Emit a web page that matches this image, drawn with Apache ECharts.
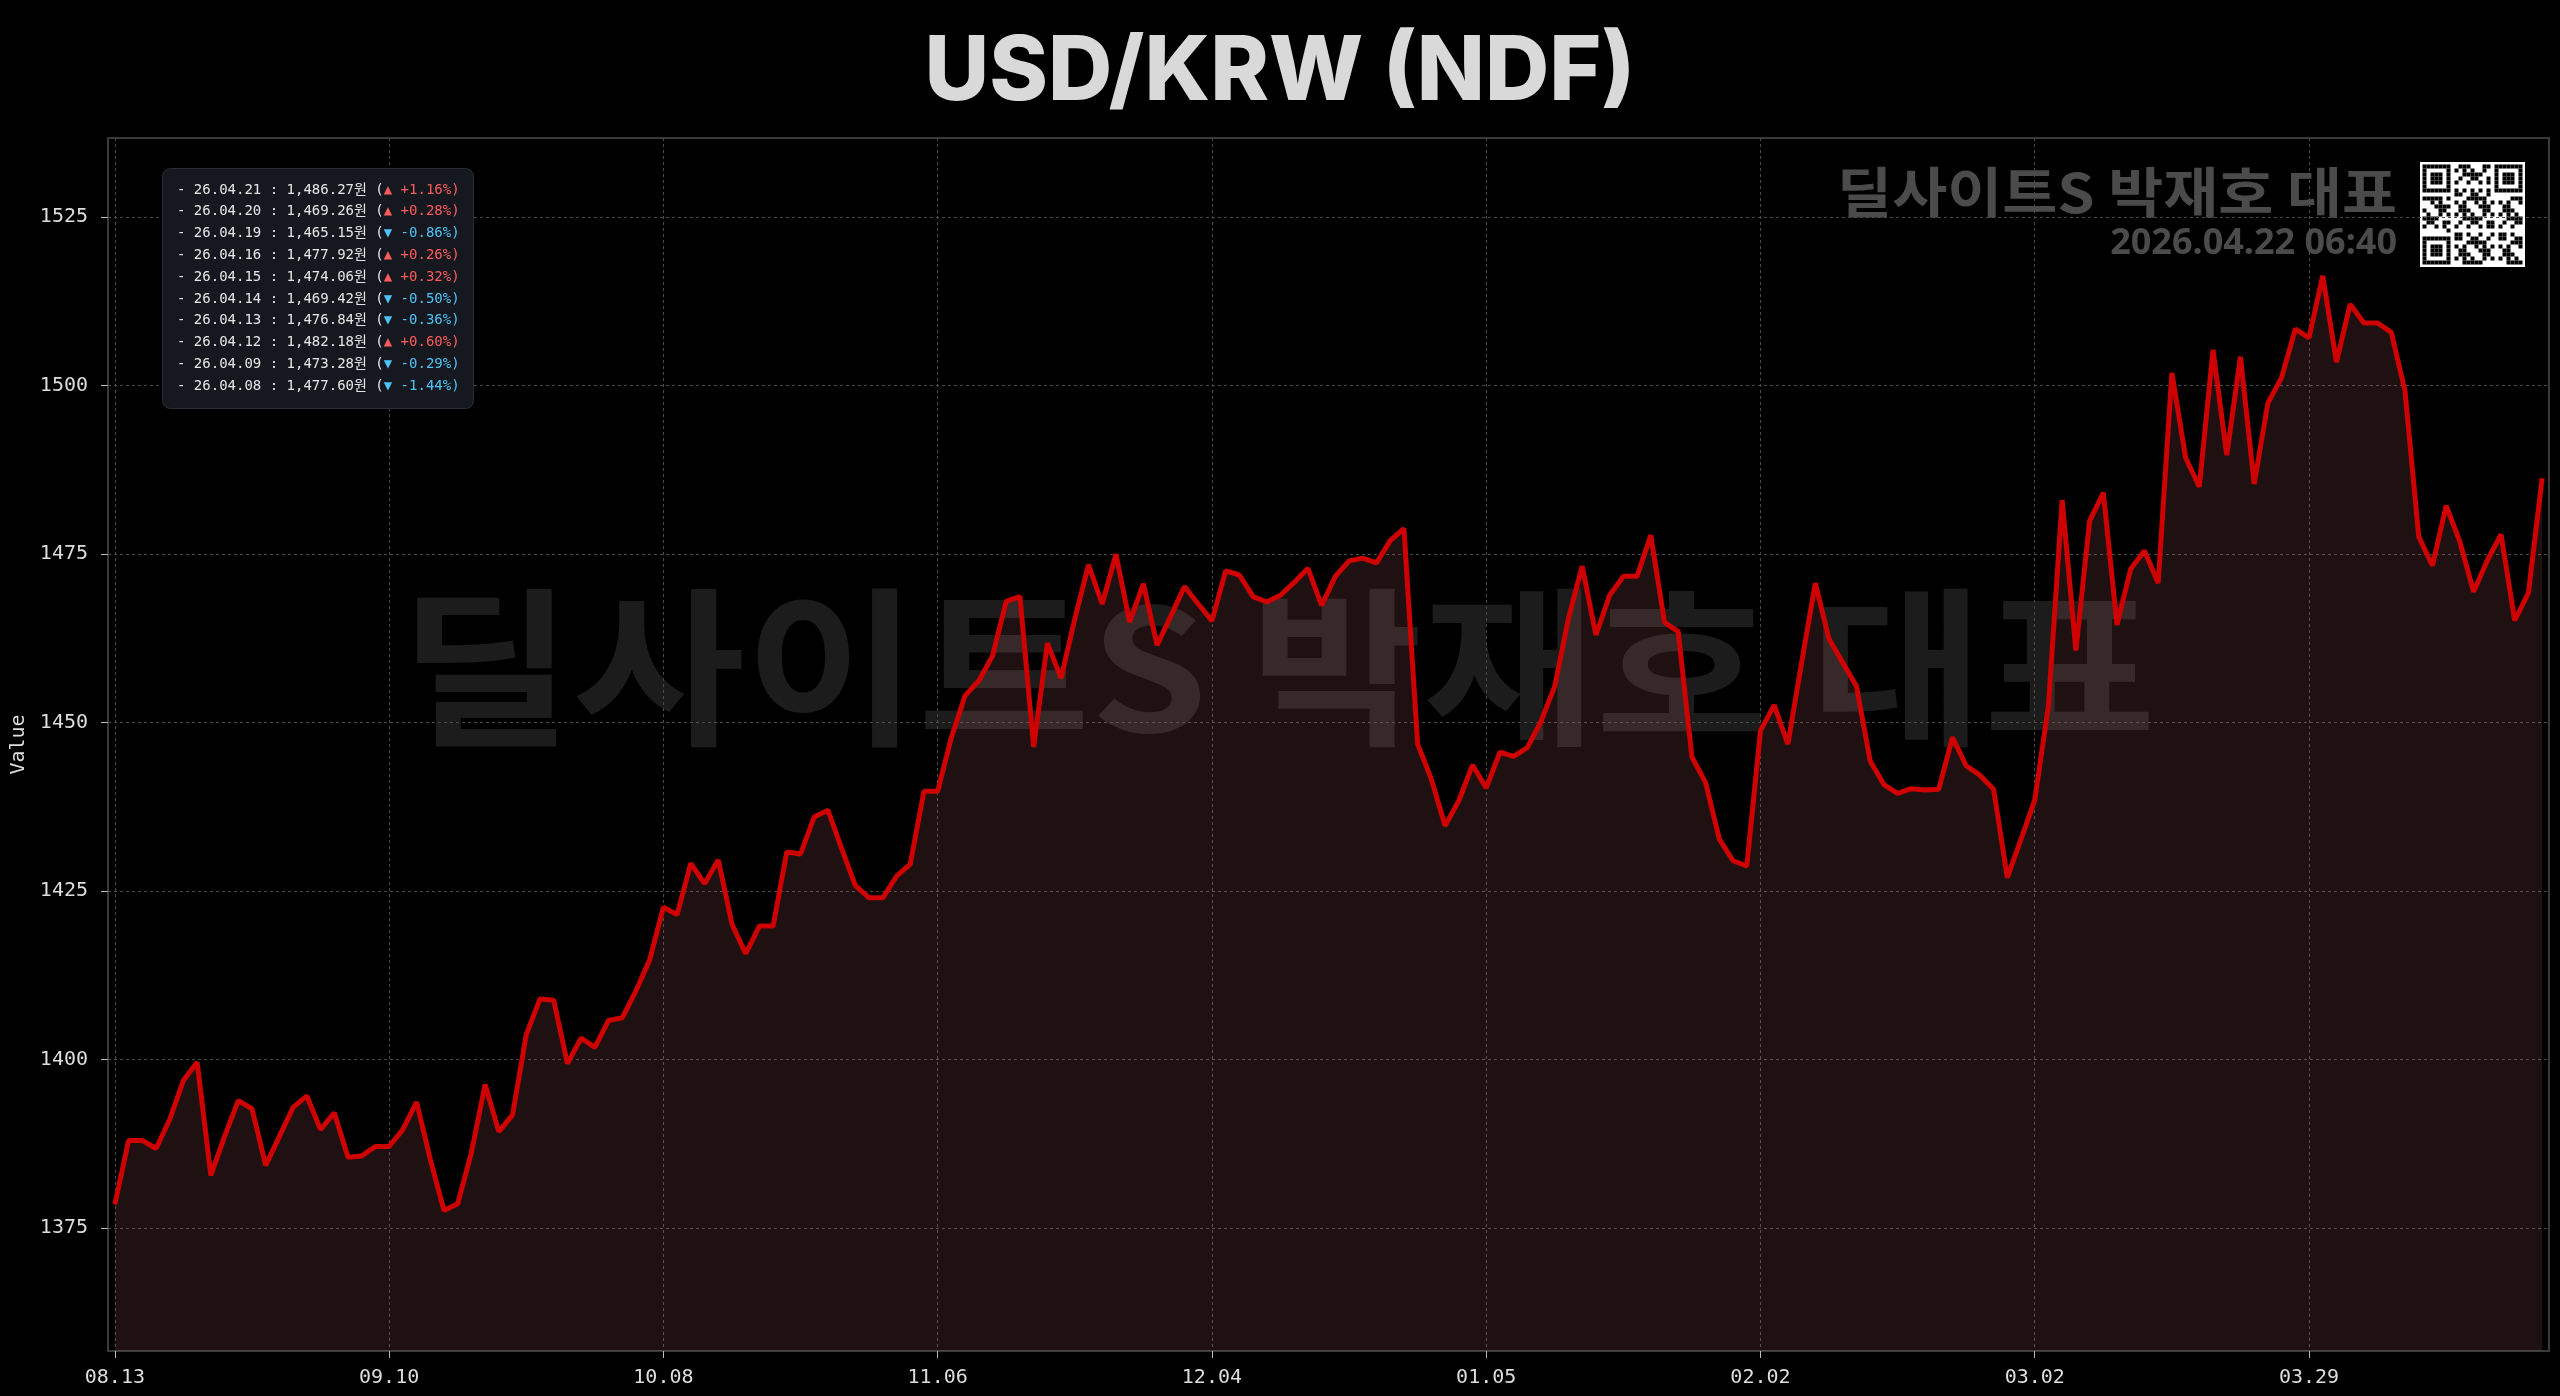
<!DOCTYPE html>
<html>
<head>
<meta charset="utf-8">
<script src="https://cdn.jsdelivr.net/npm/echarts@6/dist/echarts.min.js"></script>
<style>
html,body{margin:0;padding:0;background:#000;}
#chart{width:2560px;height:1396px;}
</style>
</head>
<body>
<div id="chart"></div>
<script>
// ---------- data ----------
const dates = [
 '25.08.13','25.08.14','25.08.17','25.08.18','25.08.19','25.08.20','25.08.21','25.08.24','25.08.25','25.08.26','25.08.27','25.08.28','25.08.31',
 '25.09.01','25.09.02','25.09.03','25.09.04','25.09.07','25.09.08','25.09.09','25.09.10','25.09.11','25.09.14','25.09.15','25.09.16','25.09.17','25.09.18','25.09.21','25.09.22','25.09.23','25.09.24','25.09.25','25.09.28','25.09.29','25.09.30',
 '25.10.01','25.10.02','25.10.05','25.10.06','25.10.07','25.10.08','25.10.09','25.10.13','25.10.14','25.10.15','25.10.16','25.10.19','25.10.20','25.10.21','25.10.22','25.10.23','25.10.26','25.10.27','25.10.28','25.10.29','25.10.30',
 '25.11.02','25.11.03','25.11.04','25.11.05','25.11.06','25.11.09','25.11.10','25.11.11','25.11.12','25.11.13','25.11.16','25.11.17','25.11.18','25.11.19','25.11.20','25.11.23','25.11.24','25.11.25','25.11.26','25.11.27','25.11.30',
 '25.12.01','25.12.02','25.12.03','25.12.04','25.12.07','25.12.08','25.12.09','25.12.10','25.12.11','25.12.14','25.12.15','25.12.16','25.12.17','25.12.18','25.12.21','25.12.22','25.12.23','25.12.25','25.12.28','25.12.29','25.12.30',
 '26.01.01','26.01.04','26.01.05','26.01.06','26.01.07','26.01.08','26.01.11','26.01.12','26.01.13','26.01.14','26.01.15','26.01.18','26.01.19','26.01.20','26.01.21','26.01.22','26.01.25','26.01.26','26.01.27','26.01.28','26.01.29',
 '26.02.01','26.02.02','26.02.03','26.02.04','26.02.05','26.02.08','26.02.09','26.02.10','26.02.11','26.02.12','26.02.15','26.02.16','26.02.17','26.02.18','26.02.19','26.02.22','26.02.23','26.02.24','26.02.25','26.02.26',
 '26.03.01','26.03.02','26.03.03','26.03.04','26.03.05','26.03.06','26.03.08','26.03.09','26.03.10','26.03.11','26.03.12','26.03.15','26.03.16','26.03.17','26.03.18','26.03.19','26.03.22','26.03.23','26.03.24','26.03.25','26.03.26','26.03.29','26.03.30','26.03.31',
 '26.04.01','26.04.02','26.04.05','26.04.06','26.04.07','26.04.08','26.04.09','26.04.12','26.04.13','26.04.14','26.04.15','26.04.16','26.04.19','26.04.20','26.04.21'
];
const values = [
 1378.5,1388.0,1388.0,1386.8,1391.1,1396.9,1399.6,1382.8,1388.6,1393.9,
 1392.7,1384.3,1388.6,1392.9,1394.6,1389.6,1392.1,1385.5,1385.7,1387.1,
 1387.1,1389.6,1393.7,1385.2,1377.6,1378.6,1386.2,1396.3,1389.3,1391.8,
 1403.7,1409.0,1408.8,1399.4,1403.2,1401.8,1405.8,1406.2,1410.2,1414.8,
 1422.6,1421.5,1429.1,1426.1,1429.6,1420.1,1415.7,1419.8,1419.8,1430.8,
 1430.5,1436.0,1437.0,1431.3,1425.8,1424.0,1424.0,1427.2,1429.0,1439.8,
 1439.8,1447.8,1454.0,1456.2,1459.9,1468.0,1468.7,1446.4,1461.8,1456.6,
 1465.4,1473.4,1467.6,1475.0,1464.9,1470.6,1461.5,1465.8,1470.2,1467.6,
 1465.1,1472.5,1471.9,1468.7,1467.9,1468.9,1470.8,1472.9,1467.4,1471.7,
 1474.0,1474.4,1473.7,1477.0,1478.8,1446.8,1441.6,1434.7,1438.4,1443.7,
 1440.3,1445.6,1445.0,1446.3,1450.2,1455.4,1465.5,1473.2,1463.0,1468.9,
 1471.7,1471.7,1477.8,1464.9,1463.5,1444.9,1441.1,1432.7,1429.5,1428.7,
 1448.8,1452.6,1446.8,1458.9,1470.7,1462.4,1458.9,1455.4,1444.3,1440.8,
 1439.5,1440.2,1440.0,1440.1,1447.8,1443.6,1442.2,1440.1,1427.0,1432.7,
 1438.5,1452.5,1483.0,1460.7,1479.9,1484.1,1464.5,1472.8,1475.5,1470.7,
 1501.9,1489.3,1485.0,1505.3,1489.7,1504.3,1485.4,1497.4,1501.2,1508.4,
 1507.1,1516.3,1503.5,1512.1,1509.3,1509.3,1507.9,1499.2,1477.60,1473.28,
 1482.18,1476.84,1469.42,1474.06,1477.92,1465.15,1469.26,1486.27
];
const yTicks = [1375, 1400, 1425, 1450, 1475, 1500, 1525];
const yMin = 1356.75;
const yMax = 1536.75;
const labelEvery = 20;
const legendCount = 10;
const titleText = 'USD/KRW (NDF)';
const brandText = '딜사이트S 박재호 대표';
const stampText = '2026.04.22 06:40';
const axisName = 'Value';

// ---------- recent-values box ----------
function fmtNum(v){ return v.toLocaleString('en-US',{minimumFractionDigits:2,maximumFractionDigits:2}); }
const legendLines = [];
for (let k = values.length - 1; k >= values.length - legendCount; k--) {
  const v = values[k], p = values[k-1];
  const pct = (v / p - 1) * 100;
  const up = pct >= 0;
  const ps = (up ? '+' : '-') + Math.abs(pct).toFixed(2) + '%';
  legendLines.push('{w|- ' + dates[k] + ' : ' + fmtNum(v) + '원 (}{' + (up ? 'u' : 'd') + '|' + (up ? '▲' : '▼') + ' ' + ps + ')}');
}

// ---------- decorative QR-like code ----------
function qrElements(x0, y0, size){
  const N = 25, cell = 4, pad = (size - N*cell)/2;
  const els = [{type:'rect', shape:{x:x0, y:y0, width:size, height:size}, style:{fill:'#ffffff'}}];
  const corners = [[0,0],[N-7,0],[0,N-7]];
  function cellOn(x,y){
    for (const c of corners){
      const dx = x - c[0], dy = y - c[1];
      if (dx >= -1 && dx <= 7 && dy >= -1 && dy <= 7){
        if (dx < 0 || dy < 0 || dx > 6 || dy > 6) return false;
        const m = Math.max(Math.abs(dx-3), Math.abs(dy-3));
        return m !== 2;
      }
    }
    if (x === 6 || y === 6) return (x + y) % 2 === 0;
    return ((x*31 + y*17 + x*y*7) % 11) < 5;
  }
  for (let y = 0; y < N; y++) for (let x = 0; x < N; x++) {
    if (cellOn(x,y)) els.push({type:'rect', shape:{x:x0+pad+x*cell, y:y0+pad+y*cell, width:cell, height:cell}, style:{fill:'#000000'}});
  }
  return els;
}

const chart = echarts.init(document.getElementById('chart'), null, {renderer:'canvas'});
const monoFont = "'DejaVu Sans Mono', 'Noto Sans CJK KR', monospace";

chart.setOption({
  backgroundColor: '#000000',
  animation: false,
  title: [
    {
      text: titleText, left: 'center', top: 24,
      textStyle: {color:'#d9d9d9', fontFamily:'Inter', fontWeight:800, fontSize:89, lineHeight:89}
    },
    {
      text: legendLines.join('\n'), left: 162, top: 168,
      padding: [11, 14, 12, 15],
      backgroundColor: '#15191f', borderColor: '#2a2f37', borderWidth: 1, borderRadius: 8,
      textStyle: {
        fontFamily: monoFont, fontSize: 14, lineHeight: 21.8, color:'#e6e6e6', fontWeight: 'normal',
        rich: {
          w: {color:'#e6e6e6', fontFamily: monoFont, fontSize:14, lineHeight:21.8},
          u: {color:'#ff5b5b', fontFamily: monoFont, fontSize:14, lineHeight:21.8},
          d: {color:'#4fc3f7', fontFamily: monoFont, fontSize:14, lineHeight:21.8}
        }
      }
    }
  ],
  grid: {left:108, right:11, top:138, bottom:45, show:true, borderColor:'#3a3a3a', borderWidth:2, backgroundColor:'transparent'},
  xAxis: {
    type: 'category', data: dates, boundaryGap: true,
    axisLine: {show:true, lineStyle:{color:'#3a3a3a', width:2}},
    axisTick: {show:true, alignWithLabel:true, interval: labelEvery-1, length:7, lineStyle:{color:'#bbbbbb'}},
    axisLabel: {interval: labelEvery-1, formatter: v => v.slice(3), color:'#dddddd', fontFamily:'DejaVu Sans Mono', fontSize:20, margin:17},
    splitLine: {show:true, interval: labelEvery-1, alignWithLabel:true, lineStyle:{color:'#4a4a4a', width:1, type:[3,3]}}
  },
  yAxis: {
    type: 'value', min: yMin, max: yMax, scale: true,
    name: axisName, nameLocation: 'middle', nameGap: 76,
    nameTextStyle: {color:'#dddddd', fontFamily:'DejaVu Sans Mono', fontSize:20},
    axisLine: {show:true, lineStyle:{color:'#3a3a3a', width:2}},
    axisTick: {show:true, length:7, customValues: yTicks, lineStyle:{color:'#bbbbbb'}},
    axisLabel: {customValues: yTicks, formatter: v => String(v), color:'#dddddd', fontFamily:'DejaVu Sans Mono', fontSize:20, margin:20},
    splitLine: {show:true, lineStyle:{color:'#4a4a4a', width:1, type:[3,3]}}
  },
  series: [{
    type: 'line', data: values, symbol: 'none', showSymbol: false, z: 3,
    lineStyle: {color:'#cf0000', width:5},
    itemStyle: {color:'#cf0000'},
    areaStyle: {color:'rgba(240,135,140,0.13)', opacity:1, origin:'start'}
  }],
  graphic: {
    elements: [
      {type:'text', z:-1, silent:true, x:1278, y:667, scaleX:1.104,
       style:{x:0, y:0, text:brandText, font:'bold 170px "Noto Sans CJK KR"', fill:'rgba(255,255,255,0.11)', align:'center', verticalAlign:'middle', textAlign:'center', textVerticalAlign:'middle'}},
      {type:'text', z:10, silent:true, x:2397, y:192, scaleX:1.108,
       style:{x:0, y:0, text:brandText, font:'bold 54px "Noto Sans CJK KR"', fill:'#4b4b4b', align:'right', verticalAlign:'middle', textAlign:'right', textVerticalAlign:'middle'}},
      {type:'text', z:10, silent:true,
       style:{x:2397, y:244, text:stampText, font:'bold 36px "Noto Sans"', fill:'#4b4b4b', align:'right', verticalAlign:'middle', textAlign:'right', textVerticalAlign:'middle'}},
      {type:'group', z:10, silent:true, children: qrElements(2420, 162, 105)}
    ]
  }
});
</script>
</body>
</html>
